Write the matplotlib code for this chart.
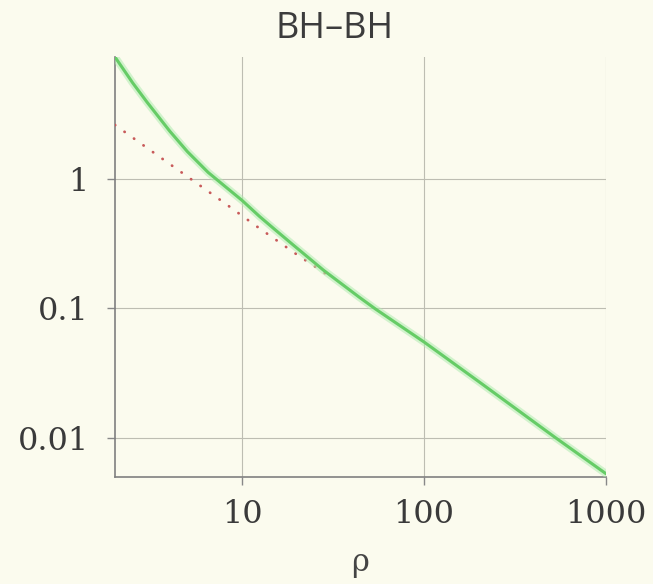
import matplotlib

matplotlib.use('Agg')
import matplotlib.pyplot as plt
from matplotlib.ticker import FixedLocator, NullLocator

# full expression (solid green) and its asymptotic 1/rho form (red dots)
RHO_FULL = [2, 2.5, 3, 4, 5, 6.5, 8, 10, 12.5, 15, 19, 28, 44, 54, 100, 200, 520, 1000]
VAL_FULL = [8.7, 5.5, 3.9, 2.33, 1.62, 1.12, 0.88, 0.68, 0.51, 0.41, 0.31, 0.197,
            0.122, 0.099, 0.055, 0.0272, 0.0102, 0.0053]
RHO_ASYM = [2, 3, 5, 8, 12, 20, 30]
VAL_ASYM = [2.6, 1.73, 1.04, 0.65, 0.43, 0.26, 0.178]

X_TICKS = [10, 100, 1000]
X_LABELS = ['10', '100', '1000']
Y_TICKS = [0.01, 0.1, 1]
Y_LABELS = ['0.01', '0.1', '1']
TITLE = 'BH\u2013BH'

BG = '#fbfbee'
W, H = 653, 584

fig = plt.figure(figsize=(W / 100, H / 100), dpi=100, facecolor=BG)
ax = fig.add_axes([115 / W, 1 - 477 / H, (606 - 115) / W, (477 - 57) / H])
ax.set_facecolor(BG)

ax.plot(RHO_ASYM, VAL_ASYM, color='#c85a5a', lw=2.0,
        linestyle=(0, (0.1, 4.1)), dash_capstyle='round', zorder=3)
ax.plot(RHO_FULL, VAL_FULL, color='#b0ecb0', lw=5.5, alpha=0.55,
        solid_capstyle='round', zorder=4)
ax.plot(RHO_FULL, VAL_FULL, color='#66cc66', lw=2.2,
        solid_capstyle='round', zorder=5)

ax.set_xscale('log')
ax.set_yscale('log')
ax.set_xlim(2, 1000)
ax.set_ylim(0.005, 8.7)

ax.xaxis.set_major_locator(FixedLocator(X_TICKS))
ax.yaxis.set_major_locator(FixedLocator(Y_TICKS))
ax.xaxis.set_minor_locator(NullLocator())
ax.yaxis.set_minor_locator(NullLocator())
ax.set_xticklabels(X_LABELS, family='DejaVu Serif', fontsize=23, color='#3a3a3a')
ax.set_yticklabels(Y_LABELS, family='DejaVu Serif', fontsize=23, color='#3a3a3a')
ax.tick_params(direction='out', length=6, width=1, color='#888888')
ax.tick_params(axis='x', pad=10)
ax.tick_params(axis='y', pad=13)

ax.grid(True, color='#bdbdb2', lw=0.8)
for side in ('top', 'right'):
    ax.spines[side].set_visible(False)
for side in ('left', 'bottom'):
    ax.spines[side].set_color('#808080')
    ax.spines[side].set_linewidth(1.2)

ax.set_xlabel('\u03c1', family='DejaVu Serif', fontsize=22, color='#444444',
              labelpad=12)
fig.text(335 / W, 1 - 29 / H, TITLE, family='Open Sans', fontsize=26,
         color='#3c3c3c', ha='center', va='center')

fig.savefig('out.png', dpi=100, facecolor=BG)
